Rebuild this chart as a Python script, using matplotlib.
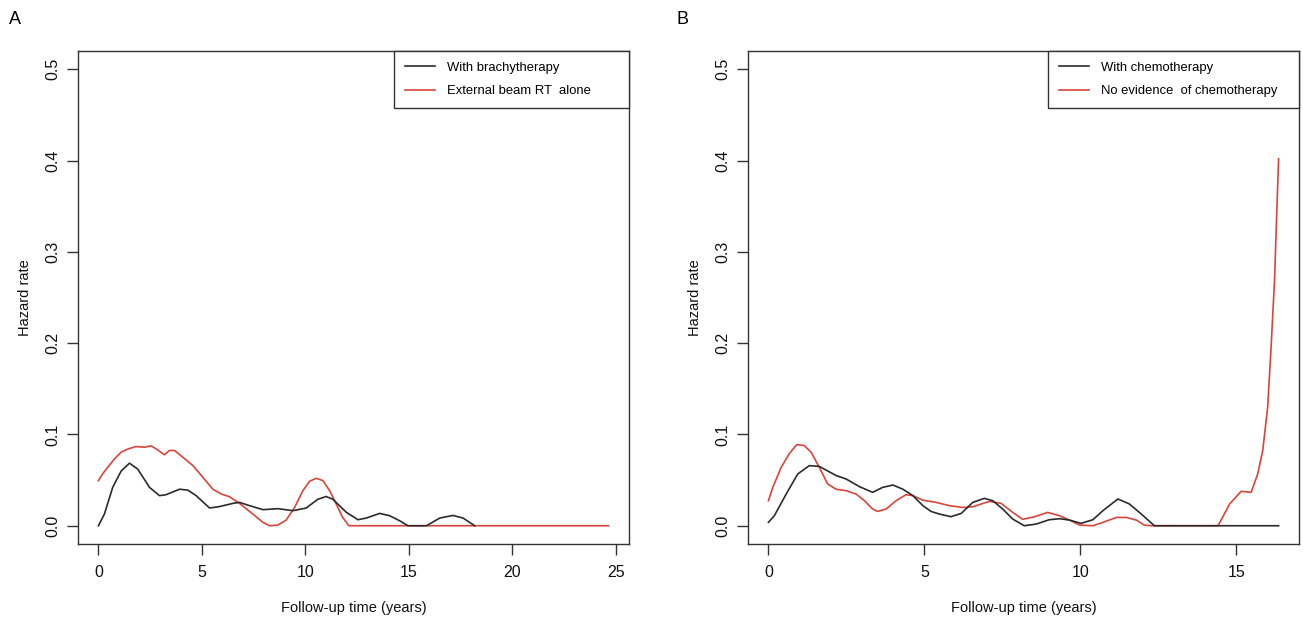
import matplotlib
matplotlib.use("Agg")
import matplotlib.pyplot as plt
from matplotlib.lines import Line2D

plt.rcParams['font.family'] = ['Liberation Sans', 'DejaVu Sans']

# ---------------- Panel A data ----------------
a_black_x = [0, 0.29, 0.69, 1.1, 1.5, 1.9, 2.47, 2.95, 3.27, 3.92, 4.32, 4.72, 5.37, 5.85,
             6.5, 6.82, 7.3, 7.95, 8.67, 9.4, 10.04, 10.6, 11.0, 11.33, 11.98, 12.54, 12.94,
             13.59, 14.07, 14.55, 14.96, 15.85, 16.49, 17.13, 17.62, 18.18]
a_black_y = [0, 0.0128, 0.042, 0.060, 0.0685, 0.062, 0.042, 0.033, 0.034, 0.040, 0.039, 0.033,
             0.0194, 0.021, 0.0245, 0.0256, 0.022, 0.0176, 0.0187, 0.0165, 0.0194, 0.029, 0.032,
             0.029, 0.0147, 0.0066, 0.0084, 0.0135, 0.011, 0.0055, 0, 0, 0.0084, 0.0113, 0.0084, 0]

a_red_x = [0, 0.21, 0.45, 0.77, 1.1, 1.42, 1.82, 2.22, 2.55, 2.87, 3.19, 3.43, 3.68, 4.08,
           4.56, 5.05, 5.53, 5.93, 6.33, 6.82, 7.46, 7.95, 8.27, 8.67, 9.07, 9.48, 9.88, 10.2,
           10.53, 10.85, 11.17, 11.49, 11.8, 12.1, 24.65]
a_red_y = [0.0494, 0.057, 0.064, 0.073, 0.0806, 0.084, 0.0868, 0.086, 0.0875, 0.083, 0.0777,
           0.0824, 0.0824, 0.075, 0.066, 0.053, 0.040, 0.0348, 0.0318, 0.0245, 0.0128, 0.0037,
           0, 0.0007, 0.0062, 0.020, 0.0385, 0.0487, 0.052, 0.0494, 0.0385, 0.0238, 0.0092, 0, 0]

# ---------------- Panel B data ----------------
b_black_x = [0, 0.19, 0.57, 0.94, 1.31, 1.63, 1.9, 2.17, 2.49, 2.92, 3.34, 3.66, 3.99, 4.31,
             4.63, 4.95, 5.21, 5.48, 5.85, 6.18, 6.55, 6.92, 7.19, 7.51, 7.83, 8.2, 8.58, 9.0,
             9.33, 9.65, 10.02, 10.4, 10.72, 11.2, 11.57, 11.95, 12.37, 16.35]
b_black_y = [0.0037, 0.011, 0.0347, 0.0567, 0.0658, 0.065, 0.060, 0.055, 0.0512, 0.0428,
             0.0366, 0.042, 0.0446, 0.040, 0.033, 0.022, 0.0157, 0.0128, 0.0099, 0.0135,
             0.0256, 0.030, 0.0274, 0.0183, 0.0073, 0, 0.0018, 0.0066, 0.0077, 0.0062,
             0.0026, 0.0066, 0.0165, 0.0293, 0.0238, 0.0128, 0, 0]

b_red_x = [0, 0.14, 0.41, 0.67, 0.91, 1.15, 1.37, 1.63, 1.9, 2.17, 2.49, 2.81, 3.08, 3.34,
           3.5, 3.77, 4.09, 4.41, 4.63, 4.95, 5.37, 5.8, 6.23, 6.55, 7.08, 7.46, 7.83, 8.15,
           8.53, 8.95, 9.33, 9.65, 9.97, 10.4, 10.72, 11.15, 11.47, 11.79, 12.05, 12.27,
           14.41, 14.78, 15.15, 15.47, 15.68, 15.84, 16.0, 16.11, 16.22, 16.29, 16.35]
b_red_y = [0.0274, 0.042, 0.064, 0.079, 0.0889, 0.0878, 0.0805, 0.064, 0.0457, 0.040,
           0.0384, 0.0347, 0.0274, 0.0183, 0.0157, 0.0183, 0.0274, 0.034, 0.033, 0.028,
           0.0256, 0.022, 0.020, 0.0208, 0.0267, 0.0245, 0.0146, 0.007, 0.0099, 0.0146,
           0.011, 0.0062, 0.0007, 0, 0.0037, 0.0091, 0.0091, 0.0062, 0.0007, 0,
           0, 0.0238, 0.0377, 0.0366, 0.0567, 0.082, 0.130, 0.196, 0.269, 0.342, 0.402]

a_labels = ["With brachytherapy", "External beam RT  alone"]
b_labels = ["With chemotherapy", "No evidence  of chemotherapy"]
y_ticks = [0.0, 0.1, 0.2, 0.3, 0.4, 0.5]
a_xticks = [0, 5, 10, 15, 20, 25]
b_xticks = [0, 5, 10, 15]

BLACK = '#2b2b2b'
RED = '#d9453b'
AXC = '#333333'

W, H = 1303, 617
fig = plt.figure(figsize=(W / 100, H / 100), dpi=100)

def make_axes(left_px, right_px):
    top_px, bot_px = 51, 544
    return fig.add_axes([left_px / W, 1 - bot_px / H, (right_px - left_px) / W,
                         (bot_px - top_px) / H])

def style(ax, xmax, xticks, labels, leg_left_frac):
    ax.set_xlim(-0.04 * xmax, 1.04 * xmax)
    ax.set_ylim(-0.02, 0.52)
    for s in ax.spines.values():
        s.set_color(AXC)
        s.set_linewidth(1.0)
    ax.set_xticks(xticks)
    ax.set_yticks(y_ticks)
    ax.set_yticklabels(["%.1f" % v for v in y_ticks], rotation=90, va='center')
    ax.tick_params(axis='both', direction='out', length=8, width=1, color=AXC,
                   labelsize=11.5, labelcolor='#111111')
    ax.tick_params(axis='x', pad=7)
    ax.tick_params(axis='y', pad=5)
    ax.set_xlabel("Follow-up time (years)", fontsize=10.5, labelpad=15.5, color='#111111')
    ax.set_ylabel("Hazard rate", fontsize=10.5, labelpad=9.5, color='#111111')
    handles = [Line2D([], [], color=BLACK, lw=1.2), Line2D([], [], color=RED, lw=1.2)]
    leg = ax.legend(handles, labels, loc='upper left',
                    bbox_to_anchor=(leg_left_frac, 0.0, 1.0 - leg_left_frac, 1.0),
                    mode='expand', borderaxespad=0, fancybox=False, framealpha=1,
                    edgecolor=AXC, fontsize=9.4, handlelength=2.3, handletextpad=0.92,
                    borderpad=0.83, labelspacing=0.86)
    leg.get_frame().set_linewidth(1.0)

# Panel A
axA = make_axes(78, 629)
axA.plot(a_red_x, a_red_y, color=RED, lw=1.2)
axA.plot(a_black_x, a_black_y, color=BLACK, lw=1.2)
style(axA, 24.65, a_xticks, a_labels, (394 - 78) / (629 - 78))

# Panel B
axB = make_axes(748, 1299)
axB.plot(b_red_x, b_red_y, color=RED, lw=1.2)
axB.plot(b_black_x, b_black_y, color=BLACK, lw=1.2)
style(axB, 16.35, b_xticks, b_labels, (1048 - 748) / (1299 - 748))

fig.text(9 / W, 1 - 20 / H, "A", fontsize=13, va='center', ha='left')
fig.text(677 / W, 1 - 20 / H, "B", fontsize=13, va='center', ha='left')

fig.savefig("out.png", dpi=100, facecolor='white')
